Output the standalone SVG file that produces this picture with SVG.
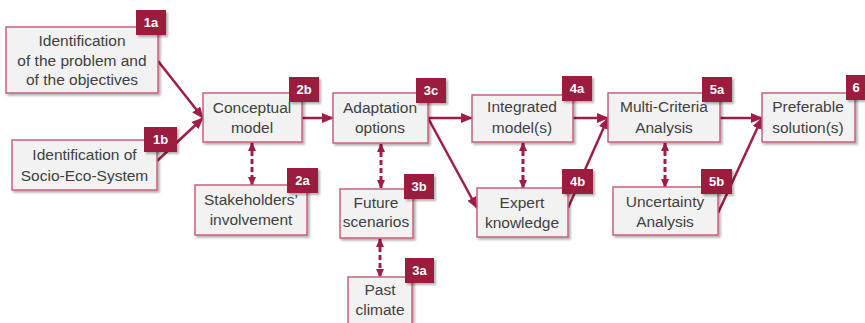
<svg xmlns="http://www.w3.org/2000/svg" width="865" height="323" viewBox="0 0 865 323">
<style>
.box{fill:#F2F2F2;stroke:#C9607C;stroke-width:1.5;filter:url(#sh)}
.badge{fill:#9B1B3E;filter:url(#sh)}
.t{font-family:"Liberation Sans",Arial,sans-serif;font-size:15.5px;fill:#404040;text-anchor:middle}
.bt{font-family:"Liberation Sans",Arial,sans-serif;font-size:13px;font-weight:bold;fill:#FFFFFF;text-anchor:middle}
.c{stroke:#A01D45;stroke-width:2.5;fill:none}
.d{stroke:#A01D45;stroke-width:3;fill:none;stroke-dasharray:5 3}
</style>
<defs>
<filter id="sh" x="-10%" y="-10%" width="130%" height="140%">
<feDropShadow dx="2" dy="2" stdDeviation="1.2" flood-color="#000" flood-opacity="0.3"/>
</filter>
<marker id="a" markerUnits="userSpaceOnUse" markerWidth="12" markerHeight="10" refX="11" refY="5" orient="auto">
<path d="M0,0 L12,5 L0,10 Z" fill="#A01D45"/>
</marker>
<marker id="ds" markerUnits="userSpaceOnUse" markerWidth="9" markerHeight="8" refX="1" refY="4" orient="auto">
<path d="M9,0 L0,4 L9,8 Z" fill="#A01D45"/>
</marker>
<marker id="de" markerUnits="userSpaceOnUse" markerWidth="9" markerHeight="8" refX="8" refY="4" orient="auto">
<path d="M0,0 L9,4 L0,8 Z" fill="#A01D45"/>
</marker>
</defs>
<rect width="865" height="323" fill="#FFFFFF"/>

<g id="connectors">
<path class="c" d="M158,61 L203,118" marker-end="url(#a)"/>
<path class="c" d="M157,161 L203,118" marker-end="url(#a)"/>
<path class="c" d="M302,118 L333,118" marker-end="url(#a)"/>
<path class="c" d="M428,118 L472,118" marker-end="url(#a)"/>
<path class="c" d="M428,118 L477,208" marker-end="url(#a)"/>
<path class="c" d="M573,118 L608,118" marker-end="url(#a)"/>
<path class="c" d="M568,208 L608,118" marker-end="url(#a)"/>
<path class="c" d="M720,118 L762,118" marker-end="url(#a)"/>
<path class="c" d="M718,213 L762,118" marker-end="url(#a)"/>
<path class="d" d="M252,143 L252,185" marker-start="url(#ds)" marker-end="url(#de)"/>
<path class="d" d="M381,144 L381,188" marker-start="url(#ds)" marker-end="url(#de)"/>
<path class="d" d="M380,239 L380,277" marker-start="url(#ds)" marker-end="url(#de)"/>
<path class="d" d="M523,143 L523,188" marker-start="url(#ds)" marker-end="url(#de)"/>
<path class="d" d="M665,143 L665,187" marker-start="url(#ds)" marker-end="url(#de)"/>
</g>

<g id="n1a">
<rect class="box" x="6" y="27" width="152" height="66"/>
<rect class="badge" x="136" y="10" width="30" height="25"/>
<text class="bt" x="151" y="27">1a</text>
<text class="t" x="82" y="46">Identification</text>
<text class="t" x="82" y="66">of the problem and</text>
<text class="t" x="82" y="85">of the objectives</text>
</g>

<g id="n1b">
<rect class="box" x="12" y="140" width="145" height="50"/>
<rect class="badge" x="144" y="127" width="33" height="25"/>
<text class="bt" x="160.5" y="144">1b</text>
<text class="t" x="84.5" y="160">Identification of</text>
<text class="t" x="84.5" y="181">Socio-Eco-System</text>
</g>

<g id="n2b">
<rect class="box" x="203" y="93" width="99" height="49"/>
<rect class="badge" x="289" y="77" width="30" height="25"/>
<text class="bt" x="304" y="94">2b</text>
<text class="t" x="252" y="113">Conceptual</text>
<text class="t" x="252" y="133">model</text>
</g>

<g id="n2a">
<rect class="box" x="195" y="185" width="112" height="50"/>
<rect class="badge" x="287" y="168" width="31" height="25"/>
<text class="bt" x="302.5" y="185">2a</text>
<text class="t" x="251" y="205">Stakeholders’</text>
<text class="t" x="251" y="225">involvement</text>
</g>

<g id="n3c">
<rect class="box" x="333" y="93" width="95" height="50"/>
<rect class="badge" x="416" y="78" width="30" height="25"/>
<text class="bt" x="431" y="95">3c</text>
<text class="t" x="380" y="113">Adaptation</text>
<text class="t" x="380" y="133">options</text>
</g>

<g id="n3b">
<rect class="box" x="340" y="189" width="73" height="49"/>
<rect class="badge" x="404" y="174" width="30" height="25"/>
<text class="bt" x="419" y="191">3b</text>
<text class="t" x="376" y="208">Future</text>
<text class="t" x="376" y="227">scenarios</text>
</g>

<g id="n3a">
<rect class="box" x="348" y="277" width="64" height="55"/>
<rect class="badge" x="405" y="258" width="29" height="25"/>
<text class="bt" x="419.5" y="275">3a</text>
<text class="t" x="380" y="295">Past</text>
<text class="t" x="380" y="315">climate</text>
</g>

<g id="n4a">
<rect class="box" x="472" y="95" width="101" height="47"/>
<rect class="badge" x="562" y="76" width="30" height="25"/>
<text class="bt" x="577" y="93">4a</text>
<text class="t" x="522" y="112">Integrated</text>
<text class="t" x="522" y="133">model(s)</text>
</g>

<g id="n4b">
<rect class="box" x="477" y="188" width="91" height="49"/>
<rect class="badge" x="562" y="169" width="31" height="25"/>
<text class="bt" x="577.5" y="186">4b</text>
<text class="t" x="522" y="208">Expert</text>
<text class="t" x="522" y="228">knowledge</text>
</g>

<g id="n5a">
<rect class="box" x="608" y="93" width="112" height="49"/>
<rect class="badge" x="702" y="77" width="30" height="25"/>
<text class="bt" x="717" y="94">5a</text>
<text class="t" x="664" y="112">Multi-Criteria</text>
<text class="t" x="664" y="133">Analysis</text>
</g>

<g id="n5b">
<rect class="box" x="613" y="187" width="105" height="48"/>
<rect class="badge" x="701" y="169" width="31" height="25"/>
<text class="bt" x="716.5" y="186">5b</text>
<text class="t" x="665" y="207">Uncertainty</text>
<text class="t" x="665" y="227">Analysis</text>
</g>

<g id="n6">
<rect class="box" x="762" y="93" width="93" height="49"/>
<rect class="badge" x="846" y="75" width="20" height="25"/>
<text class="bt" x="856" y="92">6</text>
<text class="t" x="808" y="112">Preferable</text>
<text class="t" x="808" y="133">solution(s)</text>
</g>
</svg>
